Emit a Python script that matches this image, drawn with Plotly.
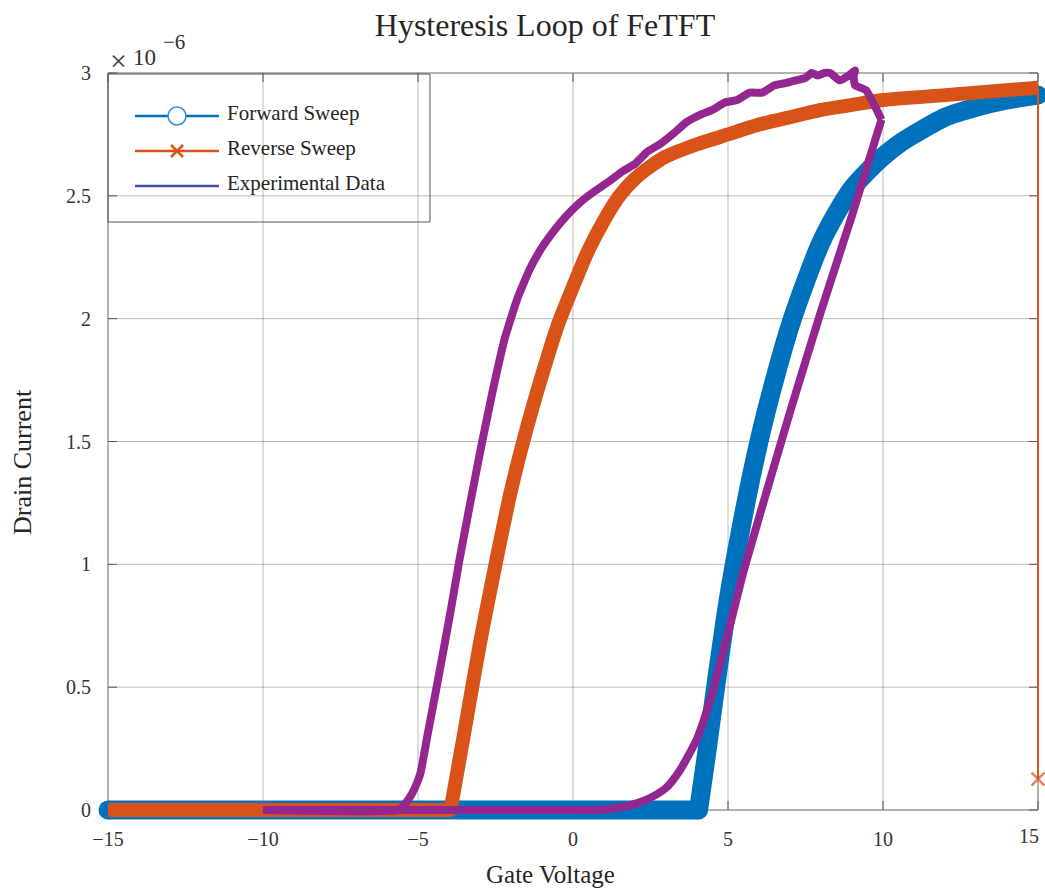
import plotly.graph_objects as go

SCALE = 1e-6

# Forward sweep (blue): flat part, then the rise (starts at the corner)
fwd_flat_x = [-15, 4.05]
fwd_flat_y = [0, 0]
fwd_x = [4.05, 4.3, 4.6, 5.0, 5.5, 6.0, 6.5, 7.0, 7.5, 8.0, 8.5, 9.0, 9.5, 10.0, 10.5, 11.0, 12.0,
         13.0, 14.0, 15.0]
fwd_y = [0, 0.22, 0.5, 0.85, 1.2, 1.5, 1.75, 1.97, 2.15, 2.31, 2.43, 2.53, 2.6, 2.66, 2.71, 2.75, 2.82,
         2.86, 2.89, 2.91]

# Reverse sweep (orange): flat part, rise, and the last lone point at x = 15
rev_flat_x = [-15, -3.95]
rev_flat_y = [0, 0]
rev_x = [-3.95, -3.5, -3.0, -2.5, -2.0, -1.5, -1.0, -0.5, 0.0, 0.5, 1.0, 1.5, 2.0, 2.5, 3.0, 4.0,
         5.0, 6.0, 7.0, 8.0, 9.0, 10.0, 12.0, 15.0]
rev_y = [0, 0.32, 0.68, 1.0, 1.3, 1.55, 1.77, 1.97, 2.13, 2.28, 2.4, 2.5, 2.57, 2.62, 2.66, 2.71,
         2.75, 2.79, 2.82, 2.85, 2.87, 2.89, 2.91, 2.94]
rev_end_x = [15.0, 15.0]
rev_end_y = [2.94, 0.126]

# Experimental data (purple): up sweep, then down sweep
exp_up_x = [-10, -5.6, 0.0, 1.0, 1.5, 2.0, 2.5, 3.0, 3.44, 4.0, 4.5, 5.0, 5.5, 6.0, 7.0, 8.0, 9.0, 9.95]
exp_up_y = [0, 0, 0, 0.002, 0.01, 0.025, 0.05, 0.09, 0.16, 0.29, 0.48, 0.72, 0.97, 1.19, 1.62, 2.03, 2.42, 2.81]
exp_dn_x = [9.95, 9.45, 9.1, 9.05, 9.1, 8.9, 8.6, 8.3, 8.1, 7.9, 7.7, 7.5, 7.2, 6.9, 6.5, 6.1, 5.7, 5.3, 4.9,
            4.5, 4.1, 3.66, 3.3, 2.8, 2.4, 2.0, 1.6, 1.18, 0.6, 0.2, -0.2, -0.6, -1.0, -1.4, -1.8,
            -2.2, -2.6, -2.96, -3.3, -3.66, -3.92, -4.12, -4.4, -4.7, -4.92, -5.1, -5.27, -5.45, -5.6, -10]
exp_dn_y = [2.81, 2.93, 2.95, 2.99, 3.01, 2.99, 2.97, 3.0, 3.0, 2.99, 3.0, 2.98, 2.97, 2.96, 2.95, 2.92, 2.92,
            2.89, 2.88, 2.85, 2.83, 2.8, 2.76, 2.71, 2.68, 2.63, 2.6, 2.56, 2.51, 2.47, 2.42, 2.36, 2.29, 2.2,
            2.08, 1.92, 1.7, 1.48, 1.26, 1.02, 0.83, 0.69, 0.5, 0.3, 0.15, 0.09, 0.05, 0.02, 0, 0]

x_ticks = [-15, -10, -5, 0, 5, 10, 15]
x_tick_text = ["\u221215", "\u221210", "\u22125", "0", "5", "10", "15"]
y_ticks = [0, 0.5, 1, 1.5, 2, 2.5, 3]
y_tick_text = ["0", "0.5", "1", "1.5", "2", "2.5", "3"]

BLUE = "#0072BD"
ORANGE = "#D95319"
PURPLE = "#93278F"
LEG_PURPLE = "#4152AD"
FONT = "Liberation Serif"
TXT = "#262626"

W, H = 1045, 889
# visible axes box (pixels)
L, R, T, B = 108, 1038, 73, 810
# drawing area, larger so the thick bands at the edges are not cut
PL, PR, PT, PB = 96, 1045, 60, 823
XMIN, XMAX = -15.0, 15.0
YMIN, YMAX = 0.0, 3.0 * SCALE
xs = (XMAX - XMIN) / (R - L)
ys = (YMAX - YMIN) / (B - T)
x_range = [XMIN - (L - PL) * xs, XMAX + (PR - R) * xs]
y_range = [YMIN - (PB - B) * ys, YMAX + (T - PT) * ys]


def sc(v):
    return [a * SCALE for a in v]


def px(xp):
    return (xp - PL) / (PR - PL)


def py(yp):
    return (PB - yp) / (PB - PT)


SM = 0.6
fig = go.Figure()
# blue
fig.add_trace(go.Scatter(x=fwd_flat_x, y=sc(fwd_flat_y), mode="lines", line=dict(color=BLUE, width=19),
                         showlegend=False))
fig.add_trace(go.Scatter(x=fwd_x, y=sc(fwd_y), mode="lines",
                         line=dict(color=BLUE, width=19, shape="spline", smoothing=SM), showlegend=False))
fig.add_trace(go.Scatter(x=[fwd_flat_x[0], fwd_x[0], fwd_x[-1]], y=sc([fwd_flat_y[0], fwd_y[0], fwd_y[-1]]),
                         mode="markers", marker=dict(color=BLUE, size=19), showlegend=False))
# orange
fig.add_trace(go.Scatter(x=rev_flat_x, y=sc(rev_flat_y), mode="lines", line=dict(color=ORANGE, width=14),
                         showlegend=False))
fig.add_trace(go.Scatter(x=rev_x, y=sc(rev_y), mode="lines",
                         line=dict(color=ORANGE, width=14, shape="spline", smoothing=SM), showlegend=False))
fig.add_trace(go.Scatter(x=[rev_x[0]], y=sc([rev_y[0]]), mode="markers",
                         marker=dict(color=ORANGE, size=14), showlegend=False))
fig.add_trace(go.Scatter(x=rev_end_x, y=sc(rev_end_y), mode="lines+markers",
                         line=dict(color=ORANGE, width=2),
                         marker=dict(symbol=["circle", "x-thin"], size=[0, 13], color=ORANGE,
                                     line=dict(color=ORANGE, width=2.5)),
                         showlegend=False))
# purple
fig.add_trace(go.Scatter(x=exp_up_x, y=sc(exp_up_y), mode="lines",
                         line=dict(color=PURPLE, width=8, shape="spline", smoothing=SM), showlegend=False))
fig.add_trace(go.Scatter(x=exp_dn_x, y=sc(exp_dn_y), mode="lines",
                         line=dict(color=PURPLE, width=8, shape="spline", smoothing=0.4), showlegend=False))

shapes = []
grid = "rgba(0,0,0,0.27)"
for xv in x_ticks[1:-1]:
    shapes.append(dict(type="line", xref="x", yref="y", x0=xv, x1=xv, y0=YMIN, y1=YMAX, layer="below",
                       line=dict(color=grid, width=1)))
for yv in sc(y_ticks)[1:-1]:
    shapes.append(dict(type="line", xref="x", yref="y", x0=XMIN, x1=XMAX, y0=yv, y1=yv, layer="below",
                       line=dict(color=grid, width=1)))
tl = 9
for xv in x_ticks:
    shapes.append(dict(type="line", xref="x", yref="y", x0=xv, x1=xv, y0=YMIN, y1=YMIN + tl * ys,
                       layer="below", line=dict(color="#555555", width=1)))
    shapes.append(dict(type="line", xref="x", yref="y", x0=xv, x1=xv, y0=YMAX, y1=YMAX - tl * ys,
                       layer="below", line=dict(color="#555555", width=1)))
for yv in sc(y_ticks):
    shapes.append(dict(type="line", xref="x", yref="y", x0=XMIN, x1=XMIN + tl * xs, y0=yv, y1=yv,
                       layer="below", line=dict(color="#555555", width=1)))
    shapes.append(dict(type="line", xref="x", yref="y", x0=XMAX, x1=XMAX - tl * xs, y0=yv, y1=yv,
                       layer="below", line=dict(color="#555555", width=1)))
shapes.append(dict(type="rect", xref="x", yref="y", x0=XMIN, x1=XMAX, y0=YMIN, y1=YMAX, layer="below",
                   line=dict(color="#666666", width=1), fillcolor="rgba(0,0,0,0)"))

# legend
shapes.append(dict(type="rect", xref="paper", yref="paper", x0=px(108), x1=px(430), y0=py(222), y1=py(74),
                   line=dict(color="#555555", width=1), fillcolor="rgba(0,0,0,0)"))
rows = [116, 151, 186]
cols = [BLUE, ORANGE, LEG_PURPLE]
for r, c in zip(rows, cols):
    shapes.append(dict(type="line", xref="paper", yref="paper", x0=px(135), x1=px(219), y0=py(r), y1=py(r),
                       line=dict(color=c, width=2.5)))
shapes.append(dict(type="circle", xref="paper", yref="paper", x0=px(177 - 9), x1=px(177 + 9),
                   y0=py(116 + 9), y1=py(116 - 9), line=dict(color="#2D8ED6", width=1.5), fillcolor="white"))
for (a, b2, c2, d) in [(-6, -6, 6, 6), (-6, 6, 6, -6)]:
    shapes.append(dict(type="line", xref="paper", yref="paper", x0=px(177 + a), x1=px(177 + c2),
                       y0=py(151 + b2), y1=py(151 + d), line=dict(color=ORANGE, width=2.5)))

annotations = []
for r, t in zip(rows, ["Forward Sweep", "Reverse Sweep", "Experimental Data"]):
    annotations.append(dict(xref="paper", yref="paper", x=px(225), y=py(r - 3), text=t, showarrow=False,
                            xanchor="left", yanchor="middle", font=dict(family=FONT, size=21, color=TXT)))
annotations.append(dict(xref="paper", yref="paper", x=px(108), y=py(60), text="\u00d7", showarrow=False,
                        xanchor="left", yanchor="middle", font=dict(family=FONT, size=30, color="#444444")))
annotations.append(dict(xref="paper", yref="paper", x=px(131), y=py(58), text="10", showarrow=False,
                        xanchor="left", yanchor="middle", font=dict(family=FONT, size=23, color="#333333")))
annotations.append(dict(xref="paper", yref="paper", x=px(161), y=py(42), text="\u22126", showarrow=False,
                        xanchor="left", yanchor="middle", font=dict(family=FONT, size=21, color="#333333")))
annotations.append(dict(xref="paper", yref="paper", x=px(550), y=py(875), text="Gate Voltage", showarrow=False,
                        xanchor="center", yanchor="middle", font=dict(family=FONT, size=25, color=TXT)))
annotations.append(dict(xref="paper", yref="paper", x=px(22), y=py(462), text="Drain Current", showarrow=False,
                        textangle=-90, xanchor="center", yanchor="middle",
                        font=dict(family=FONT, size=26, color=TXT)))
# last x tick label, pulled in so it stays inside the page (as in the reference)
annotations.append(dict(xref="paper", yref="paper", x=px(1041), y=py(836), text=x_tick_text[-1],
                        showarrow=False, xanchor="right", yanchor="middle",
                        font=dict(family=FONT, size=20, color="#333333")))

fig.update_layout(
    width=W, height=H,
    margin=dict(l=PL, r=W - PR, t=PT, b=H - PB, autoexpand=False),
    paper_bgcolor="white", plot_bgcolor="white",
    title=dict(text="Hysteresis Loop of FeTFT", x=545 / W, xanchor="center", y=1 - 25 / H, yanchor="middle",
               font=dict(family=FONT, size=32, color=TXT)),
    xaxis=dict(range=x_range, tickvals=x_ticks[:-1], ticktext=x_tick_text[:-1], showgrid=False, zeroline=False,
               showline=False, ticks="", ticklabelstandoff=2, automargin=False,
               tickfont=dict(family=FONT, size=20, color="#333333")),
    yaxis=dict(range=y_range, tickvals=sc(y_ticks), ticktext=y_tick_text, showgrid=False, zeroline=False,
               showline=False, ticks="", ticklabelstandoff=4, automargin=False,
               tickfont=dict(family=FONT, size=20, color="#333333")),
    shapes=shapes, annotations=annotations,
)

fig.write_html("out.html", config={"displayModeBar": False},
               post_script="document.body.style.margin='0';document.body.style.overflow='hidden';")
